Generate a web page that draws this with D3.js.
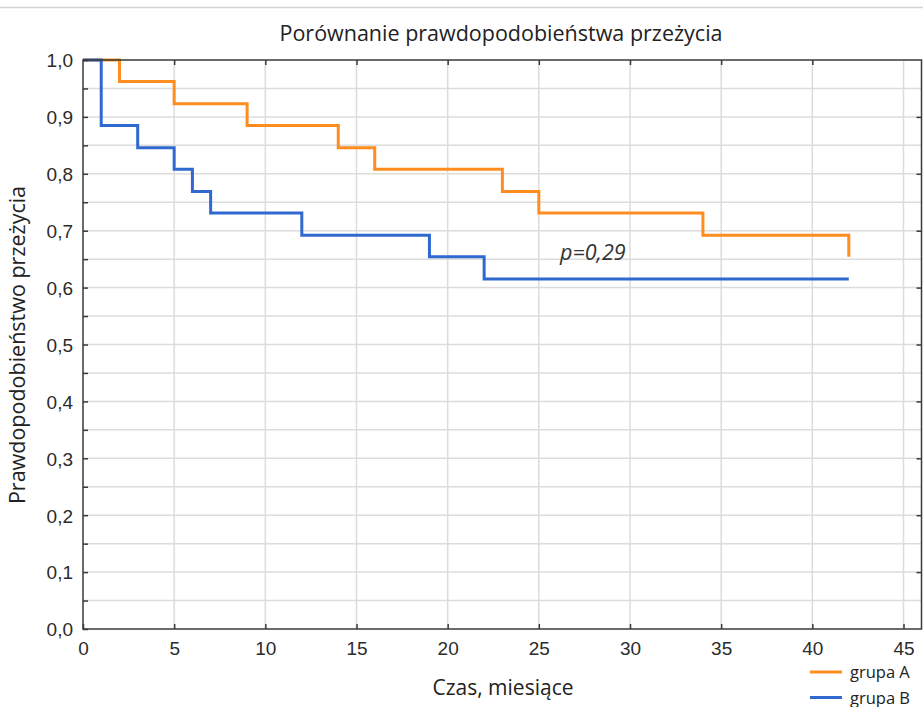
<!DOCTYPE html>
<html>
<head>
<meta charset="utf-8">
<script src="https://cdn.jsdelivr.net/npm/d3@7"></script>
<style>
  html, body { margin: 0; padding: 0; background: #fff; }
  svg { display: block; }
  .tick text { font-family: "Liberation Sans", Arial, sans-serif; font-size: 19px; fill: #2b2b2b; }
  .domain { display: none; }
</style>
</head>
<body>
<svg id="chart" width="923" height="707"></svg>
<script>
// Kaplan–Meier survival estimates, time in months
const timesA = [0, 2, 5, 9, 14, 16, 23, 25, 34, 42];
const survA  = [1.0, 0.962, 0.923, 0.885, 0.846, 0.808, 0.769, 0.731, 0.692, 0.654];
const timesB = [0, 1, 3, 5, 6, 7, 12, 19, 22, 42];
const survB  = [1.0, 0.885, 0.846, 0.808, 0.769, 0.731, 0.692, 0.654, 0.615, 0.615];

const seriesNames = ["grupa A", "grupa B"];
const seriesColors = ["#ff8c1f", "#2f69cf"];

const xTicks = [0, 5, 10, 15, 20, 25, 30, 35, 40, 45];
const yTicks = [0, 0.1, 0.2, 0.3, 0.4, 0.5, 0.6, 0.7, 0.8, 0.9, 1.0];
const yMinorTicks = d3.range(0, 1.0001, 0.05).map(v => +v.toFixed(2));

const titleText = "Porównanie prawdopodobieństwa przeżycia";
const xTitle = "Czas, miesiące";
const yTitle = "Prawdopodobieństwo przeżycia";
const pLabel = "p=0,29";
const pPos = { t: 26, s: 0.648 };

const svg = d3.select("#chart");
const W = 923, H = 707;
const plotLeft = 83, plotTop = 60, plotBottom = 629, plotRight = 921.5;

const x = d3.scaleLinear().domain([0, 45]).range([plotLeft, 903.5]);
const y = d3.scaleLinear().domain([0, 1]).range([plotBottom, plotTop]);
const fmt = v => d3.format(".1f")(v).replace(".", ",");

// thin rule across the top of the page
svg.append("line")
  .attr("x1", 0).attr("x2", W).attr("y1", 7.5).attr("y2", 7.5)
  .attr("stroke", "#d4d4d4").attr("stroke-width", 1.5);

// grid
const grid = svg.append("g").attr("stroke", "#dcdcdc").attr("stroke-width", 1.5);
grid.selectAll(".gx").data(xTicks.filter(d => d > 0)).join("line")
  .attr("x1", d => x(d)).attr("x2", d => x(d))
  .attr("y1", plotTop).attr("y2", plotBottom);
grid.selectAll(".gy").data(yMinorTicks.filter(d => d > 0 && d < 1)).join("line")
  .attr("x1", plotLeft).attr("x2", plotRight)
  .attr("y1", d => y(d)).attr("y2", d => y(d));

// survival step curves
const line = d3.line().curve(d3.curveStepAfter).x(d => x(d[0])).y(d => y(d[1]));
const dataA = d3.zip(timesA, survA);
const dataB = d3.zip(timesB, survB);
[dataA, dataB].forEach((data, i) => {
  svg.append("path").datum(data)
    .attr("d", line)
    .attr("fill", "none")
    .attr("stroke", seriesColors[i])
    .attr("stroke-width", 3)
    .attr("stroke-linejoin", "miter")
    .attr("stroke-linecap", "butt");
});

// frame
svg.append("rect")
  .attr("x", plotLeft).attr("y", plotTop)
  .attr("width", plotRight - plotLeft).attr("height", plotBottom - plotTop)
  .attr("fill", "none").attr("stroke", "#3a3a3a").attr("stroke-width", 1.5);

// axes with inward ticks
const axB = d3.axisBottom(x).tickValues(xTicks).tickSizeInner(-5).tickSizeOuter(0)
  .tickPadding(13);
svg.append("g").attr("transform", `translate(0,${plotBottom})`).call(axB)
  .call(g => g.selectAll(".tick line").attr("stroke", "#3a3a3a").attr("stroke-width", 1.5));

const axT = d3.axisTop(x).tickValues(xTicks.filter(d => d > 0 && d < 45)).tickSizeInner(-5).tickSizeOuter(0)
  .tickFormat("");
svg.append("g").attr("transform", `translate(0,${plotTop})`).call(axT)
  .call(g => g.selectAll(".tick line").attr("stroke", "#3a3a3a").attr("stroke-width", 1.5));

const axL = d3.axisLeft(y).tickValues(yMinorTicks).tickSizeInner(-5).tickSizeOuter(0)
  .tickPadding(10)
  .tickFormat(d => (Math.round(d * 100) % 10 === 0 ? fmt(d) : ""));
svg.append("g").attr("transform", `translate(${plotLeft},0)`).call(axL)
  .call(g => g.selectAll(".tick line").attr("stroke", "#3a3a3a").attr("stroke-width", 1.5))
  .call(g => g.selectAll(".tick text").attr("dy", "0.36em"));

const axR = d3.axisRight(y).tickValues(yTicks.filter(d => d > 0 && d < 1)).tickSizeInner(-5).tickSizeOuter(0)
  .tickFormat("");
svg.append("g").attr("transform", `translate(${plotRight},0)`).call(axR)
  .call(g => g.selectAll(".tick line").attr("stroke", "#3a3a3a").attr("stroke-width", 1.5));

// titles
const textFont = "'Open Sans', 'Noto Sans', sans-serif";
svg.append("text")
  .attr("x", 501).attr("y", 41)
  .attr("text-anchor", "middle")
  .attr("font-family", textFont).attr("font-size", 21.5).attr("fill", "#222")
  .text(titleText);

svg.append("text")
  .attr("x", 503).attr("y", 695)
  .attr("text-anchor", "middle")
  .attr("font-family", textFont).attr("font-size", 21).attr("fill", "#222")
  .text(xTitle);

svg.append("text")
  .attr("transform", "translate(25,345) rotate(-90)")
  .attr("text-anchor", "middle")
  .attr("font-family", textFont).attr("font-size", 21.5).attr("fill", "#222")
  .text(yTitle);

// p-value annotation
svg.append("text")
  .attr("x", x(pPos.t) + 3).attr("y", y(pPos.s))
  .attr("font-family", textFont).attr("font-size", 21.5)
  .attr("font-style", "italic").attr("fill", "#333")
  .text(pLabel);

// legend
const legend = svg.append("g");
seriesNames.forEach((name, i) => {
  const ly = 672 + i * 25.5;
  legend.append("line")
    .attr("x1", 810).attr("x2", 842).attr("y1", ly).attr("y2", ly)
    .attr("stroke", seriesColors[i]).attr("stroke-width", 3);
  legend.append("text")
    .attr("x", 850).attr("y", ly + 6)
    .attr("font-family", textFont).attr("font-size", 16.5).attr("fill", "#222")
    .text(name);
});
</script>
</body>
</html>
